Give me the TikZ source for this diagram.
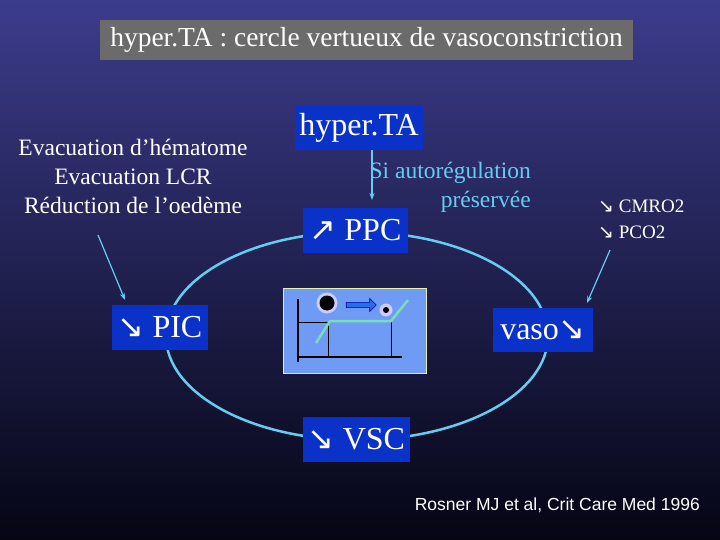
\documentclass[tikz,border=0pt]{standalone}
\usepackage{fontspec}
\setmainfont{Liberation Serif}
\newfontfamily\symf{DejaVu Sans}
\newfontfamily\arialf{Liberation Sans}
\usetikzlibrary{shapes.arrows,arrows.meta}
\definecolor{boxblue}{HTML}{0A32C8}
\definecolor{cyanl}{HTML}{66CCF0}
\definecolor{graphbg}{HTML}{6F9BF5}
\definecolor{greenl}{HTML}{77DDBB}
\newcommand{\dn}{{\symf\char"2198}}
\newcommand{\up}{{\symf\char"2197}}
\newcommand{\apos}{{\char"27}}
\begin{document}
\begin{tikzpicture}[x=1pt,y=-1pt,
  bluebox/.style={fill=boxblue,text=white,inner sep=0pt,font=\fontsize{32}{34}\selectfont},
  wtext/.style={text=white,align=center,font=\fontsize{23.5}{29}\selectfont},
  conn/.style={draw=cyanl,line width=1.2pt,-{Stealth[length=7pt,width=5pt]}}]
\shade[top color={rgb,255:red,60;green,60;blue,140},bottom color={rgb,255:red,5;green,5;blue,20}] (0,0) rectangle (720,540);
\useasboundingbox (0,0) rectangle (720,540);
% title
\node[fill=black!58,text=white,minimum width=533pt,minimum height=40pt,inner sep=0pt,font=\fontsize{27.5}{30}\selectfont] (title) at (366.5,40) {hyper.TA : cercle vertueux de vasoconstriction};
% ellipse
\draw[cyanl,line width=2.5pt] (357,336) ellipse [x radius=191pt,y radius=104pt];
% boxes
\node[bluebox,minimum width=128pt,minimum height=45pt] (hta) at (359,127.5) {hyper.TA};
\node[bluebox,minimum width=105pt,minimum height=45pt] (ppc) at (355.5,230.5) {\up\ PPC};
\node[bluebox,minimum width=96pt,minimum height=45pt] (pic) at (160,327.5) {\dn\ PIC};
\node[bluebox,minimum width=100pt,minimum height=44pt] (vaso) at (543,330) {vaso\dn};
\node[bluebox,minimum width=107pt,minimum height=45pt] (vsc) at (356.5,439.5) {\dn\ VSC};
% texts
\node[wtext] (left) at (133,176) {Evacuation d\apos hématome\\Evacuation LCR\\Réduction de l\apos oedème};
\node[text=cyanl,anchor=north east,align=right,font=\fontsize{23.5}{29}\selectfont,inner sep=0pt] (auto) at (531,162) {Si autorégulation\\préservée};
\node[text=white,anchor=west,align=left,font=\fontsize{19}{26}\selectfont,inner sep=0pt] (cm) at (598,219) {\dn\ CMRO2\\\dn\ PCO2};
\node[text=white,anchor=east,font=\arialf\fontsize{17.5}{18}\selectfont,inner sep=0pt] (cite) at (700,505) {Rosner MJ et al, Crit Care Med 1996};
% connectors
\coordinate (l0) at (98,235);
\coordinate (r0) at (610,250);
\draw[conn] (hta.south -| 372,0) -- (372,200);
\draw[conn] (l0) -- (125,300);
\draw[conn] (r0) -- (587,303);
% inset graph
\draw[fill=graphbg,draw={rgb,255:red,230;green,240;blue,170},line width=0.8pt] (283,288) rectangle (426,373);
\draw[black,line width=2.2pt] (298,299) -- (298,362);
\draw[black,line width=2pt] (297,357) -- (402,357);
\draw[black,line width=0.8pt] (298,322) -- (328,322) -- (328,357);
\draw[black,line width=0.8pt] (391,322) -- (391,357);
\draw[greenl,line width=2.5pt] (316,343) -- (330,321) -- (391,321) -- (408,300);
\fill[white!80!blue] (327,303) circle (10.5);
\fill[black] (327,303) circle (7.5);
\fill[white!80!blue] (386,310) circle (6.5);
\fill[black] (386,310) circle (3);
\node[single arrow,draw=blue!60!black,fill={rgb,255:red,40;green,110;blue,235},minimum height=30pt,minimum width=13pt,single arrow head extend=2pt,inner sep=1pt,line width=0.6pt] (barr) at (360,305) {};
\end{tikzpicture}
\end{document}
